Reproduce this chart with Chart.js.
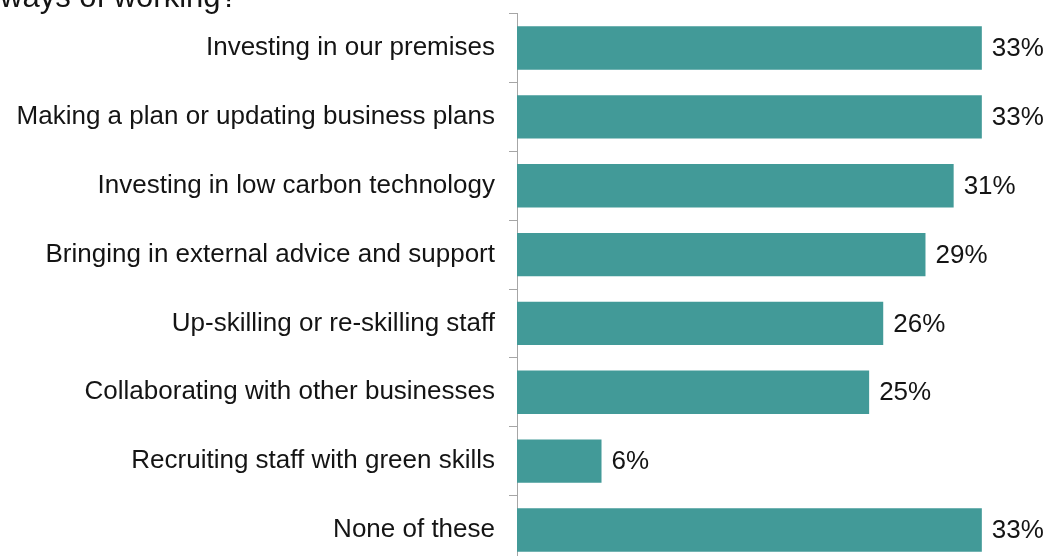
<!DOCTYPE html>
<html>
<head>
<meta charset="utf-8">
<script src="https://cdn.jsdelivr.net/npm/chart.js@4/dist/chart.umd.min.js"></script>
<style>
  html, body { margin: 0; padding: 0; background: #ffffff; overflow: hidden; }
  #wrap { position: relative; width: 1047px; height: 556px; overflow: hidden; }
  #box { position: absolute; left: 0; top: -16px; width: 1047px; height: 610px; }
</style>
</head>
<body>
<div id="wrap"><div id="box"><canvas id="c"></canvas></div></div>
<script>
// Actions taken by businesses (share of respondents, %)
const categories = [
  "Investing in our premises",
  "Making a plan or updating business plans",
  "Investing in low carbon technology",
  "Bringing in external advice and support",
  "Up-skilling or re-skilling staff",
  "Collaborating with other businesses",
  "Recruiting staff with green skills",
  "None of these"
];
const shares = [33, 33, 31, 29, 26, 25, 6, 33];
const titleTail = "ways of working?";

const FONT = "'Liberation Sans', Arial, sans-serif";

// Writes each bar's percentage just past its end
const valueLabels = {
  id: 'valueLabels',
  afterDatasetsDraw(chart) {
    const ctx = chart.ctx;
    const meta = chart.getDatasetMeta(0);
    ctx.save();
    ctx.font = "26px " + FONT;
    ctx.fillStyle = "#141414";
    ctx.textAlign = "left";
    ctx.textBaseline = "middle";
    meta.data.forEach((bar, i) => {
      ctx.fillText(shares[i] + "%", bar.x + 10, bar.y + 1);
    });
    ctx.restore();
  }
};

// Last line of the question heading, running off the top edge
const headingLine = {
  id: 'headingLine',
  afterDraw(chart) {
    const ctx = chart.ctx;
    ctx.save();
    ctx.font = "31px " + FONT;
    ctx.fillStyle = "#141414";
    ctx.textAlign = "left";
    ctx.textBaseline = "alphabetic";
    ctx.fillText(titleTail, 0, 23);
    ctx.restore();
  }
};

new Chart(document.getElementById('c'), {
  type: 'bar',
  data: {
    labels: categories,
    datasets: [{
      data: shares,
      backgroundColor: '#429a98',
      borderWidth: 0,
      categoryPercentage: 1,
      barPercentage: 0.63
    }]
  },
  options: {
    indexAxis: 'y',
    responsive: true,
    maintainAspectRatio: false,
    animation: false,
    layout: { padding: { top: 0, right: 37, bottom: 24, left: 0 } },
    plugins: {
      legend: { display: false },
      tooltip: { enabled: false },
      title: { display: false }
    },
    scales: {
      x: {
        display: false,
        min: 0,
        max: 35
      },
      y: {
        afterFit(scale) { scale.width = 517; },
        grid: {
          offset: true,
          drawOnChartArea: false,
          drawTicks: true,
          tickLength: 8,
          color: '#a6a6a6'
        },
        border: { display: true, color: '#a6a6a6', width: 1 },
        ticks: {
          color: '#141414',
          padding: 14,
          font: { family: FONT, size: 26 }
        }
      }
    }
  },
  plugins: [valueLabels, headingLine]
});
</script>
</body>
</html>
